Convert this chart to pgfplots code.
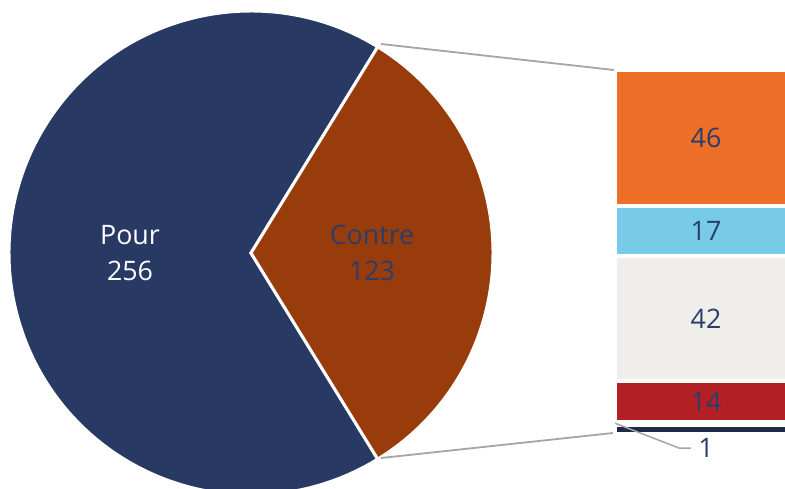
\documentclass[border=0pt]{standalone}
\usepackage{pgfplots}
\pgfplotsset{compat=1.18}
\usepackage{fontspec}
\setmainfont{Open Sans}
\definecolor{cPour}{HTML}{283A64}
\definecolor{cContre}{HTML}{983C0B}
\definecolor{cA}{HTML}{EE7028}
\definecolor{cB}{HTML}{78CBE7}
\definecolor{cC}{HTML}{F0EEEB}
\definecolor{cD}{HTML}{B22025}
\definecolor{cE}{HTML}{1C2A48}
\definecolor{cTxt}{HTML}{2B3D6B}
\definecolor{cLine}{HTML}{A5A5A5}
% data
\def\vPour{256}
\def\vContre{123}
\def\vA{46}\def\vB{17}\def\vC{42}\def\vD{14}\def\vE{1}
\begin{document}
\begin{tikzpicture}
\useasboundingbox (0,0) rectangle (785pt,489pt);
\begin{axis}[at={(0,0)},anchor=south west,
  hide axis, scale only axis, width=785pt, height=489pt,
  xmin=0, xmax=785, ymin=0, ymax=489, y dir=reverse, clip=true]
% pie geometry (pixel units)
\pgfmathsetmacro{\ha}{180*(\vContre/(\vPour+\vContre))}
\def\cx{251}\def\cy{253}\def\R{242}
\fill[cPour, draw=white, line width=3pt] (axis cs:\cx,\cy) -- ++(\ha:\R pt) arc[start angle=\ha, end angle={360-\ha}, radius=\R pt] -- cycle;
\fill[cContre, draw=white, line width=3pt] (axis cs:\cx,\cy) -- ++(-\ha:\R pt) arc[start angle=-\ha, end angle=\ha, radius=\R pt] -- cycle;
% connectors
\draw[cLine, line width=1.8pt] (axis cs:381,44) -- (axis cs:614,70);
\draw[cLine, line width=1.8pt] (axis cs:381,458) -- (axis cs:613,433);
% stacked bar
\def\yo{70}\def\s{2.96}\def\xl{617}\def\xr{800}
\pgfmathsetmacro{\ya}{\yo}
\pgfmathsetmacro{\yb}{\ya+\vA*\s}
\pgfmathsetmacro{\yc}{\yb+\vB*\s}
\pgfmathsetmacro{\yd}{\yc+\vC*\s}
\pgfmathsetmacro{\ye}{\yd+\vD*\s}
\pgfmathsetmacro{\yf}{\ye+\vE*\s}
\fill[cA] (axis cs:\xl,{\ya+2}) rectangle (axis cs:\xr,{\yb-2});
\fill[cB] (axis cs:\xl,{\yb+2}) rectangle (axis cs:\xr,{\yc-2});
\fill[cC] (axis cs:\xl,{\yc+2}) rectangle (axis cs:\xr,{\yd-2});
\fill[cD] (axis cs:\xl,{\ye-2}) rectangle (axis cs:\xr,{\yd+2});
\fill[cE] (axis cs:\xl,{\ye+4.8}) rectangle (axis cs:\xr,{\yf+7});
% leader for 1
\draw[cLine, line width=1.5pt] (axis cs:615,{\ye+1}) -- (axis cs:679,448) -- (axis cs:691,448);
% labels
\begin{scope}[every node/.style={font=\fontsize{26.8}{30}\selectfont, inner sep=0pt}]
\node[white, anchor=base] at (axis cs:130,245) {Pour};
\node[white, anchor=base] at (axis cs:130,280) {256};
\node[cTxt, anchor=base] at (axis cs:372,245) {Contre};
\node[cTxt, anchor=base] at (axis cs:372,280) {123};
\node[cTxt] at (axis cs:706,{(\ya+\yb)/2}) {\vA};
\node[cTxt] at (axis cs:706,{(\yb+\yc)/2}) {\vB};
\node[cTxt] at (axis cs:706,{(\yc+\yd)/2}) {\vC};
\node[cTxt] at (axis cs:706,{(\yd+\ye)/2}) {\vD};
\node[cTxt, anchor=base] at (axis cs:706,457) {\vE};
\end{scope}
\end{axis}
\end{tikzpicture}
\end{document}
